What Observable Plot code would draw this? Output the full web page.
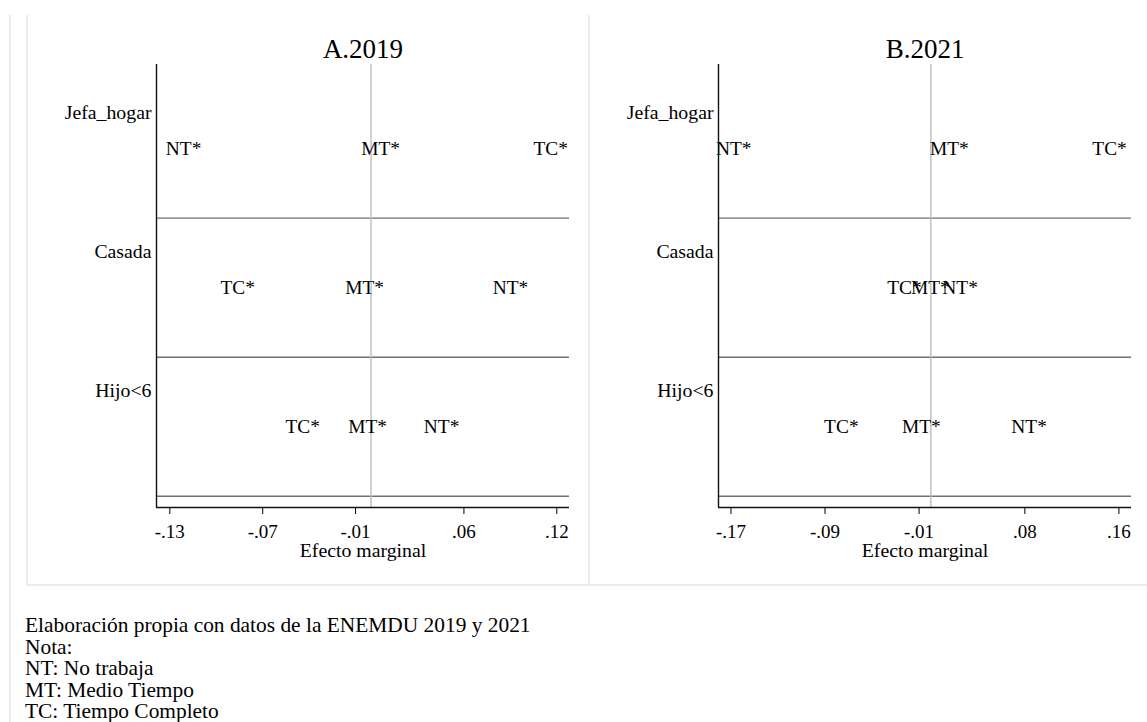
<!DOCTYPE html>
<html>
<head>
<meta charset="utf-8">
<script src="https://cdn.jsdelivr.net/npm/d3@7"></script>
<script src="https://cdn.jsdelivr.net/npm/@observablehq/plot@0.6"></script>
<style>
  body { margin: 0; background: #fff; font-family: "Liberation Serif", "Times New Roman", serif; }
  #wrap { position: relative; width: 1147px; height: 722px; overflow: hidden; background: #fff; }
  .bl { position: absolute; background: #ececec; }
  .panel { position: absolute; top: 15px; }
  #foot { position: absolute; left: 25px; top: 615px; font-size: 21.4px; line-height: 21.5px; color: #000; white-space: pre; }
</style>
</head>
<body>
<div id="wrap">
  <div class="bl" style="left:9px;top:15px;width:2px;height:707px;"></div>
  <div class="bl" style="left:26px;top:15px;width:2px;height:571px;"></div>
  <div class="bl" style="left:588px;top:15px;width:2px;height:571px;"></div>
  <div class="bl" style="left:26px;top:584px;width:1121px;height:2px;"></div>
  <div id="p1" class="panel" style="left:27px;"></div>
  <div id="p2" class="panel" style="left:589px;"></div>
  <div id="foot"></div>
</div>
<script>
// ---- data ----
const categories = ["Jefa_hogar", "Casada", "Hijo<6"];
const seriesLabels = ["NT*", "MT*", "TC*"];
const titles = ["A.2019", "B.2021"];
const xLabel = "Efecto marginal";

// marginal effects by category (Jefa_hogar, Casada, Hijo<6)
const nt2019 = [-0.1211, 0.0901, 0.0456];
const mt2019 = [0.0062, -0.0042, -0.0022];
const tc2019 = [0.1160, -0.0862, -0.0442];

const nt2021 = [-0.1676, 0.0249, 0.0836];
const mt2021 = [0.0158, -0.0004, -0.0080];
const tc2021 = [0.1520, -0.0225, -0.0761];

const ticks2019 = [-0.13, -0.07, -0.01, 0.06, 0.12];
const ticks2021 = [-0.17, -0.09, -0.01, 0.08, 0.16];
const domain2019 = [-0.1386, 0.1282];
const domain2021 = [-0.1806, 0.1707];

const footLines = [
  "Elaboración propia con datos de la ENEMDU 2019 y 2021",
  "Nota:",
  "NT: No trabaja",
  "MT: Medio Tiempo",
  "TC: Tiempo Completo"
];

// ---- helpers ----
const fmt = d => (d < 0 ? "-" : "") + Math.abs(d).toFixed(2).replace(/^0/, "");
const yDomain = [0.3957, 3.5806];
const catOffset = 0.259;
const catTicks = categories.map((c, i) => i + 1 - catOffset);
const separators = categories.map((c, i) => i + 1.5);

function panel(title, nt, mt, tc, ticks, domain, width, marginRight) {
  const rows = [];
  categories.forEach((c, i) => {
    rows.push({cat: c, row: i + 1, s: seriesLabels[0], v: nt[i]});
    rows.push({cat: c, row: i + 1, s: seriesLabels[1], v: mt[i]});
    rows.push({cat: c, row: i + 1, s: seriesLabels[2], v: tc[i]});
  });
  return Plot.plot({
    width, height: 570,
    marginLeft: 129, marginRight, marginTop: 49, marginBottom: 78,
    style: {fontFamily: '"Liberation Serif", "Times New Roman", serif', fontSize: "19px", color: "#000", background: "transparent", overflow: "visible"},
    x: {domain, label: null},
    y: {domain: yDomain, reverse: true, label: null},
    marks: [
      Plot.ruleY(separators, {stroke: "#707070", strokeWidth: 1.4}),
      Plot.ruleX([0], {stroke: "#bdbdbd", strokeWidth: 1.4}),
      Plot.axisX({ticks, tickFormat: fmt, tickSize: 7, tickPadding: 10, fontSize: 19, label: null, stroke: "#000"}),
      Plot.axisY({ticks: catTicks, tickFormat: d => categories[Math.round(d + catOffset) - 1], tickSize: 0, tickPadding: 5, fontSize: 19.8, label: null}),
      Plot.ruleX([domain[0]], {stroke: "#111", strokeWidth: 1.4}),
      Plot.ruleY([yDomain[1]], {stroke: "#111", strokeWidth: 1.4}),
      Plot.text(rows, {x: "v", y: "row", text: "s", fontSize: 19.4, fill: "#000"}),
      Plot.text([title], {text: d => d, frameAnchor: "top", lineAnchor: "bottom", dy: -7, fontSize: 27, fill: "#000"}),
      Plot.text([xLabel], {text: d => d, frameAnchor: "bottom", lineAnchor: "middle", dy: 43, fontSize: 19.8, fill: "#000"})
    ]
  });
}

document.getElementById("p1").appendChild(panel(titles[0], nt2019, mt2019, tc2019, ticks2019, domain2019, 562, 20));
document.getElementById("p2").appendChild(panel(titles[1], nt2021, mt2021, tc2021, ticks2021, domain2021, 558, 16));
document.getElementById("foot").textContent = footLines.join("\n");
</script>
</body>
</html>
